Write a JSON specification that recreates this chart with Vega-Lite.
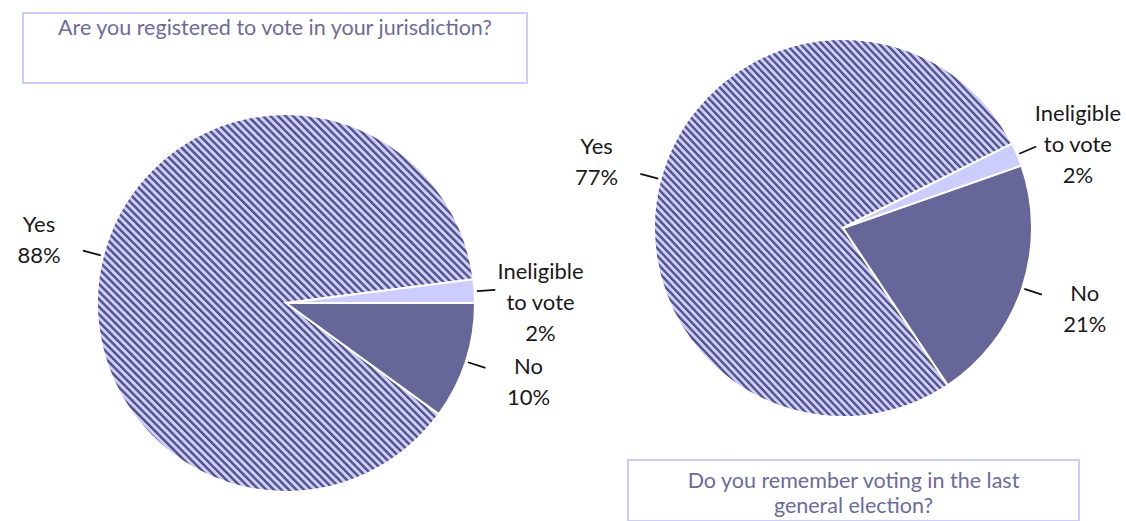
{
"$schema": "https://vega.github.io/schema/vega-lite/v6.json",
"padding": {"left": 17, "top": 12, "right": 0, "bottom": 0},
"background": "white",
"config": {"view": {"stroke": null}, "font": "Lato"},
"params": [{"name": "stripes", "value": {"gradient": "linear", "x1": 0, "y1": 1, "x2": 1, "y2": 0, "stops": [
{"offset":0.001,"color":"#ccf"},{"offset":0.0048,"color":"#ccf"},{"offset":0.0062,"color":"#558"},{"offset":0.0092,"color":"#558"},
{"offset":0.011,"color":"#ccf"},{"offset":0.0148,"color":"#ccf"},{"offset":0.0162,"color":"#558"},{"offset":0.0192,"color":"#558"},
{"offset":0.021,"color":"#ccf"},{"offset":0.0248,"color":"#ccf"},{"offset":0.0262,"color":"#558"},{"offset":0.0292,"color":"#558"},
{"offset":0.031,"color":"#ccf"},{"offset":0.0348,"color":"#ccf"},{"offset":0.0362,"color":"#558"},{"offset":0.0392,"color":"#558"},
{"offset":0.041,"color":"#ccf"},{"offset":0.0448,"color":"#ccf"},{"offset":0.0462,"color":"#558"},{"offset":0.0492,"color":"#558"},
{"offset":0.051,"color":"#ccf"},{"offset":0.0548,"color":"#ccf"},{"offset":0.0562,"color":"#558"},{"offset":0.0592,"color":"#558"},
{"offset":0.061,"color":"#ccf"},{"offset":0.0648,"color":"#ccf"},{"offset":0.0662,"color":"#558"},{"offset":0.0692,"color":"#558"},
{"offset":0.071,"color":"#ccf"},{"offset":0.0748,"color":"#ccf"},{"offset":0.0762,"color":"#558"},{"offset":0.0792,"color":"#558"},
{"offset":0.081,"color":"#ccf"},{"offset":0.0848,"color":"#ccf"},{"offset":0.0862,"color":"#558"},{"offset":0.0892,"color":"#558"},
{"offset":0.091,"color":"#ccf"},{"offset":0.0948,"color":"#ccf"},{"offset":0.0962,"color":"#558"},{"offset":0.0992,"color":"#558"},
{"offset":0.101,"color":"#ccf"},{"offset":0.1048,"color":"#ccf"},{"offset":0.1062,"color":"#558"},{"offset":0.1092,"color":"#558"},
{"offset":0.111,"color":"#ccf"},{"offset":0.1148,"color":"#ccf"},{"offset":0.1162,"color":"#558"},{"offset":0.1192,"color":"#558"},
{"offset":0.121,"color":"#ccf"},{"offset":0.1248,"color":"#ccf"},{"offset":0.1262,"color":"#558"},{"offset":0.1292,"color":"#558"},
{"offset":0.131,"color":"#ccf"},{"offset":0.1348,"color":"#ccf"},{"offset":0.1362,"color":"#558"},{"offset":0.1392,"color":"#558"},
{"offset":0.141,"color":"#ccf"},{"offset":0.1448,"color":"#ccf"},{"offset":0.1462,"color":"#558"},{"offset":0.1492,"color":"#558"},
{"offset":0.151,"color":"#ccf"},{"offset":0.1548,"color":"#ccf"},{"offset":0.1562,"color":"#558"},{"offset":0.1592,"color":"#558"},
{"offset":0.161,"color":"#ccf"},{"offset":0.1648,"color":"#ccf"},{"offset":0.1662,"color":"#558"},{"offset":0.1692,"color":"#558"},
{"offset":0.171,"color":"#ccf"},{"offset":0.1748,"color":"#ccf"},{"offset":0.1762,"color":"#558"},{"offset":0.1792,"color":"#558"},
{"offset":0.181,"color":"#ccf"},{"offset":0.1848,"color":"#ccf"},{"offset":0.1862,"color":"#558"},{"offset":0.1892,"color":"#558"},
{"offset":0.191,"color":"#ccf"},{"offset":0.1948,"color":"#ccf"},{"offset":0.1962,"color":"#558"},{"offset":0.1992,"color":"#558"},
{"offset":0.201,"color":"#ccf"},{"offset":0.2048,"color":"#ccf"},{"offset":0.2062,"color":"#558"},{"offset":0.2092,"color":"#558"},
{"offset":0.211,"color":"#ccf"},{"offset":0.2148,"color":"#ccf"},{"offset":0.2162,"color":"#558"},{"offset":0.2192,"color":"#558"},
{"offset":0.221,"color":"#ccf"},{"offset":0.2248,"color":"#ccf"},{"offset":0.2262,"color":"#558"},{"offset":0.2292,"color":"#558"},
{"offset":0.231,"color":"#ccf"},{"offset":0.2348,"color":"#ccf"},{"offset":0.2362,"color":"#558"},{"offset":0.2392,"color":"#558"},
{"offset":0.241,"color":"#ccf"},{"offset":0.2448,"color":"#ccf"},{"offset":0.2462,"color":"#558"},{"offset":0.2492,"color":"#558"},
{"offset":0.251,"color":"#ccf"},{"offset":0.2548,"color":"#ccf"},{"offset":0.2562,"color":"#558"},{"offset":0.2592,"color":"#558"},
{"offset":0.261,"color":"#ccf"},{"offset":0.2648,"color":"#ccf"},{"offset":0.2662,"color":"#558"},{"offset":0.2692,"color":"#558"},
{"offset":0.271,"color":"#ccf"},{"offset":0.2748,"color":"#ccf"},{"offset":0.2762,"color":"#558"},{"offset":0.2792,"color":"#558"},
{"offset":0.281,"color":"#ccf"},{"offset":0.2848,"color":"#ccf"},{"offset":0.2862,"color":"#558"},{"offset":0.2892,"color":"#558"},
{"offset":0.291,"color":"#ccf"},{"offset":0.2948,"color":"#ccf"},{"offset":0.2962,"color":"#558"},{"offset":0.2992,"color":"#558"},
{"offset":0.301,"color":"#ccf"},{"offset":0.3048,"color":"#ccf"},{"offset":0.3062,"color":"#558"},{"offset":0.3092,"color":"#558"},
{"offset":0.311,"color":"#ccf"},{"offset":0.3148,"color":"#ccf"},{"offset":0.3162,"color":"#558"},{"offset":0.3192,"color":"#558"},
{"offset":0.321,"color":"#ccf"},{"offset":0.3248,"color":"#ccf"},{"offset":0.3262,"color":"#558"},{"offset":0.3292,"color":"#558"},
{"offset":0.331,"color":"#ccf"},{"offset":0.3348,"color":"#ccf"},{"offset":0.3362,"color":"#558"},{"offset":0.3392,"color":"#558"},
{"offset":0.341,"color":"#ccf"},{"offset":0.3448,"color":"#ccf"},{"offset":0.3462,"color":"#558"},{"offset":0.3492,"color":"#558"},
{"offset":0.351,"color":"#ccf"},{"offset":0.3548,"color":"#ccf"},{"offset":0.3562,"color":"#558"},{"offset":0.3592,"color":"#558"},
{"offset":0.361,"color":"#ccf"},{"offset":0.3648,"color":"#ccf"},{"offset":0.3662,"color":"#558"},{"offset":0.3692,"color":"#558"},
{"offset":0.371,"color":"#ccf"},{"offset":0.3748,"color":"#ccf"},{"offset":0.3762,"color":"#558"},{"offset":0.3792,"color":"#558"},
{"offset":0.381,"color":"#ccf"},{"offset":0.3848,"color":"#ccf"},{"offset":0.3862,"color":"#558"},{"offset":0.3892,"color":"#558"},
{"offset":0.391,"color":"#ccf"},{"offset":0.3948,"color":"#ccf"},{"offset":0.3962,"color":"#558"},{"offset":0.3992,"color":"#558"},
{"offset":0.401,"color":"#ccf"},{"offset":0.4048,"color":"#ccf"},{"offset":0.4062,"color":"#558"},{"offset":0.4092,"color":"#558"},
{"offset":0.411,"color":"#ccf"},{"offset":0.4148,"color":"#ccf"},{"offset":0.4162,"color":"#558"},{"offset":0.4192,"color":"#558"},
{"offset":0.421,"color":"#ccf"},{"offset":0.4248,"color":"#ccf"},{"offset":0.4262,"color":"#558"},{"offset":0.4292,"color":"#558"},
{"offset":0.431,"color":"#ccf"},{"offset":0.4348,"color":"#ccf"},{"offset":0.4362,"color":"#558"},{"offset":0.4392,"color":"#558"},
{"offset":0.441,"color":"#ccf"},{"offset":0.4448,"color":"#ccf"},{"offset":0.4462,"color":"#558"},{"offset":0.4492,"color":"#558"},
{"offset":0.451,"color":"#ccf"},{"offset":0.4548,"color":"#ccf"},{"offset":0.4562,"color":"#558"},{"offset":0.4592,"color":"#558"},
{"offset":0.461,"color":"#ccf"},{"offset":0.4648,"color":"#ccf"},{"offset":0.4662,"color":"#558"},{"offset":0.4692,"color":"#558"},
{"offset":0.471,"color":"#ccf"},{"offset":0.4748,"color":"#ccf"},{"offset":0.4762,"color":"#558"},{"offset":0.4792,"color":"#558"},
{"offset":0.481,"color":"#ccf"},{"offset":0.4848,"color":"#ccf"},{"offset":0.4862,"color":"#558"},{"offset":0.4892,"color":"#558"},
{"offset":0.491,"color":"#ccf"},{"offset":0.4948,"color":"#ccf"},{"offset":0.4962,"color":"#558"},{"offset":0.4992,"color":"#558"},
{"offset":0.501,"color":"#ccf"},{"offset":0.5048,"color":"#ccf"},{"offset":0.5062,"color":"#558"},{"offset":0.5092,"color":"#558"},
{"offset":0.511,"color":"#ccf"},{"offset":0.5148,"color":"#ccf"},{"offset":0.5162,"color":"#558"},{"offset":0.5192,"color":"#558"},
{"offset":0.521,"color":"#ccf"},{"offset":0.5248,"color":"#ccf"},{"offset":0.5262,"color":"#558"},{"offset":0.5292,"color":"#558"},
{"offset":0.531,"color":"#ccf"},{"offset":0.5348,"color":"#ccf"},{"offset":0.5362,"color":"#558"},{"offset":0.5392,"color":"#558"},
{"offset":0.541,"color":"#ccf"},{"offset":0.5448,"color":"#ccf"},{"offset":0.5462,"color":"#558"},{"offset":0.5492,"color":"#558"},
{"offset":0.551,"color":"#ccf"},{"offset":0.5548,"color":"#ccf"},{"offset":0.5562,"color":"#558"},{"offset":0.5592,"color":"#558"},
{"offset":0.561,"color":"#ccf"},{"offset":0.5648,"color":"#ccf"},{"offset":0.5662,"color":"#558"},{"offset":0.5692,"color":"#558"},
{"offset":0.571,"color":"#ccf"},{"offset":0.5748,"color":"#ccf"},{"offset":0.5762,"color":"#558"},{"offset":0.5792,"color":"#558"},
{"offset":0.581,"color":"#ccf"},{"offset":0.5848,"color":"#ccf"},{"offset":0.5862,"color":"#558"},{"offset":0.5892,"color":"#558"},
{"offset":0.591,"color":"#ccf"},{"offset":0.5948,"color":"#ccf"},{"offset":0.5962,"color":"#558"},{"offset":0.5992,"color":"#558"},
{"offset":0.601,"color":"#ccf"},{"offset":0.6048,"color":"#ccf"},{"offset":0.6062,"color":"#558"},{"offset":0.6092,"color":"#558"},
{"offset":0.611,"color":"#ccf"},{"offset":0.6148,"color":"#ccf"},{"offset":0.6162,"color":"#558"},{"offset":0.6192,"color":"#558"},
{"offset":0.621,"color":"#ccf"},{"offset":0.6248,"color":"#ccf"},{"offset":0.6262,"color":"#558"},{"offset":0.6292,"color":"#558"},
{"offset":0.631,"color":"#ccf"},{"offset":0.6348,"color":"#ccf"},{"offset":0.6362,"color":"#558"},{"offset":0.6392,"color":"#558"},
{"offset":0.641,"color":"#ccf"},{"offset":0.6448,"color":"#ccf"},{"offset":0.6462,"color":"#558"},{"offset":0.6492,"color":"#558"},
{"offset":0.651,"color":"#ccf"},{"offset":0.6548,"color":"#ccf"},{"offset":0.6562,"color":"#558"},{"offset":0.6592,"color":"#558"},
{"offset":0.661,"color":"#ccf"},{"offset":0.6648,"color":"#ccf"},{"offset":0.6662,"color":"#558"},{"offset":0.6692,"color":"#558"},
{"offset":0.671,"color":"#ccf"},{"offset":0.6748,"color":"#ccf"},{"offset":0.6762,"color":"#558"},{"offset":0.6792,"color":"#558"},
{"offset":0.681,"color":"#ccf"},{"offset":0.6848,"color":"#ccf"},{"offset":0.6862,"color":"#558"},{"offset":0.6892,"color":"#558"},
{"offset":0.691,"color":"#ccf"},{"offset":0.6948,"color":"#ccf"},{"offset":0.6962,"color":"#558"},{"offset":0.6992,"color":"#558"},
{"offset":0.701,"color":"#ccf"},{"offset":0.7048,"color":"#ccf"},{"offset":0.7062,"color":"#558"},{"offset":0.7092,"color":"#558"},
{"offset":0.711,"color":"#ccf"},{"offset":0.7148,"color":"#ccf"},{"offset":0.7162,"color":"#558"},{"offset":0.7192,"color":"#558"},
{"offset":0.721,"color":"#ccf"},{"offset":0.7248,"color":"#ccf"},{"offset":0.7262,"color":"#558"},{"offset":0.7292,"color":"#558"},
{"offset":0.731,"color":"#ccf"},{"offset":0.7348,"color":"#ccf"},{"offset":0.7362,"color":"#558"},{"offset":0.7392,"color":"#558"},
{"offset":0.741,"color":"#ccf"},{"offset":0.7448,"color":"#ccf"},{"offset":0.7462,"color":"#558"},{"offset":0.7492,"color":"#558"},
{"offset":0.751,"color":"#ccf"},{"offset":0.7548,"color":"#ccf"},{"offset":0.7562,"color":"#558"},{"offset":0.7592,"color":"#558"},
{"offset":0.761,"color":"#ccf"},{"offset":0.7648,"color":"#ccf"},{"offset":0.7662,"color":"#558"},{"offset":0.7692,"color":"#558"},
{"offset":0.771,"color":"#ccf"},{"offset":0.7748,"color":"#ccf"},{"offset":0.7762,"color":"#558"},{"offset":0.7792,"color":"#558"},
{"offset":0.781,"color":"#ccf"},{"offset":0.7848,"color":"#ccf"},{"offset":0.7862,"color":"#558"},{"offset":0.7892,"color":"#558"},
{"offset":0.791,"color":"#ccf"},{"offset":0.7948,"color":"#ccf"},{"offset":0.7962,"color":"#558"},{"offset":0.7992,"color":"#558"},
{"offset":0.801,"color":"#ccf"},{"offset":0.8048,"color":"#ccf"},{"offset":0.8062,"color":"#558"},{"offset":0.8092,"color":"#558"},
{"offset":0.811,"color":"#ccf"},{"offset":0.8148,"color":"#ccf"},{"offset":0.8162,"color":"#558"},{"offset":0.8192,"color":"#558"},
{"offset":0.821,"color":"#ccf"},{"offset":0.8248,"color":"#ccf"},{"offset":0.8262,"color":"#558"},{"offset":0.8292,"color":"#558"},
{"offset":0.831,"color":"#ccf"},{"offset":0.8348,"color":"#ccf"},{"offset":0.8362,"color":"#558"},{"offset":0.8392,"color":"#558"},
{"offset":0.841,"color":"#ccf"},{"offset":0.8448,"color":"#ccf"},{"offset":0.8462,"color":"#558"},{"offset":0.8492,"color":"#558"},
{"offset":0.851,"color":"#ccf"},{"offset":0.8548,"color":"#ccf"},{"offset":0.8562,"color":"#558"},{"offset":0.8592,"color":"#558"},
{"offset":0.861,"color":"#ccf"},{"offset":0.8648,"color":"#ccf"},{"offset":0.8662,"color":"#558"},{"offset":0.8692,"color":"#558"},
{"offset":0.871,"color":"#ccf"},{"offset":0.8748,"color":"#ccf"},{"offset":0.8762,"color":"#558"},{"offset":0.8792,"color":"#558"},
{"offset":0.881,"color":"#ccf"},{"offset":0.8848,"color":"#ccf"},{"offset":0.8862,"color":"#558"},{"offset":0.8892,"color":"#558"},
{"offset":0.891,"color":"#ccf"},{"offset":0.8948,"color":"#ccf"},{"offset":0.8962,"color":"#558"},{"offset":0.8992,"color":"#558"},
{"offset":0.901,"color":"#ccf"},{"offset":0.9048,"color":"#ccf"},{"offset":0.9062,"color":"#558"},{"offset":0.9092,"color":"#558"},
{"offset":0.911,"color":"#ccf"},{"offset":0.9148,"color":"#ccf"},{"offset":0.9162,"color":"#558"},{"offset":0.9192,"color":"#558"},
{"offset":0.921,"color":"#ccf"},{"offset":0.9248,"color":"#ccf"},{"offset":0.9262,"color":"#558"},{"offset":0.9292,"color":"#558"},
{"offset":0.931,"color":"#ccf"},{"offset":0.9348,"color":"#ccf"},{"offset":0.9362,"color":"#558"},{"offset":0.9392,"color":"#558"},
{"offset":0.941,"color":"#ccf"},{"offset":0.9448,"color":"#ccf"},{"offset":0.9462,"color":"#558"},{"offset":0.9492,"color":"#558"},
{"offset":0.951,"color":"#ccf"},{"offset":0.9548,"color":"#ccf"},{"offset":0.9562,"color":"#558"},{"offset":0.9592,"color":"#558"},
{"offset":0.961,"color":"#ccf"},{"offset":0.9648,"color":"#ccf"},{"offset":0.9662,"color":"#558"},{"offset":0.9692,"color":"#558"},
{"offset":0.971,"color":"#ccf"},{"offset":0.9748,"color":"#ccf"},{"offset":0.9762,"color":"#558"},{"offset":0.9792,"color":"#558"},
{"offset":0.981,"color":"#ccf"},{"offset":0.9848,"color":"#ccf"},{"offset":0.9862,"color":"#558"},{"offset":0.9892,"color":"#558"},
{"offset":0.991,"color":"#ccf"},{"offset":0.9948,"color":"#ccf"},{"offset":0.9962,"color":"#558"},{"offset":0.9992,"color":"#558"}
]}}],
"spacing": 605,
"bounds": "flush",
"hconcat": [
 {"vconcat": [
   {"width": 504, "height": 70, "view": {"stroke": "#ccccff", "strokeWidth": 2},
    "data": {"values": [{"title": "Are you registered to vote in your jurisdiction?"}]},
    "mark": {"type": "text", "font": "Lato", "fontSize": 21.5, "color": "#6b6b9c", "dy": -19},
    "encoding": {"text": {"field": "title", "type": "nominal"}}},
   {"width": 526, "height": 420,
    "data": {"values": [
      {"answer": "Yes", "pct": 88},
      {"answer": "No", "pct": 10},
      {"answer": "Ineligible to vote", "pct": 2}]},
    "transform": [
      {"calculate": "replace(datum.answer, ' to', '\\nto') + '\\n' + datum.pct + '%'", "as": "label"},
      {"window": [{"op": "sum", "field": "pct", "as": "cum"}], "sort": [{"field": "answer", "order": "ascending"}]},
      {"calculate": "datum.cum - datum.pct / 2", "as": "mid"},
      {"calculate": "datum.mid + 0.02", "as": "mid2"}],
    "encoding": {
      "theta": {"field": "pct", "type": "quantitative", "stack": true, "scale": {"range": [1.4451, 7.7283]}},
      "order": {"field": "answer", "type": "nominal", "sort": "ascending"},
      "detail": {"field": "answer", "type": "nominal"}},
    "layer": [
      {"mark": {"type": "arc", "outerRadius": 189, "stroke": "white", "strokeWidth": 2},
       "encoding": {"fill": {"condition": {"test": "datum.answer === 'Yes'", "value": {"expr": "stripes"}},
         "field": "answer", "type": "nominal", "legend": null,
         "scale": {"domain": ["Yes", "No", "Ineligible to vote"], "range": ["#ccccff", "#666699", "#ccccff"]}}}},
      {"mark": {"type": "arc", "outerRadius": 209, "innerRadius": 192, "fill": "#111111", "stroke": "#111111", "strokeWidth": 1.5},
       "encoding": {"theta": {"field": "mid", "type": "quantitative", "stack": null}, "theta2": {"field": "mid2"}}},
      {"mark": {"type": "text", "radius": 255, "font": "Lato", "fontSize": 22, "lineBreak": "\n", "lineHeight": 31, "dy": -15, "color": "#1a1a1a"},
       "encoding": {"text": {"field": "label", "type": "nominal"}}}
    ]}
  ], "spacing": 10, "bounds": "flush"},
 {"vconcat": [
   {"width": 430, "height": 430,
    "data": {"values": [
      {"answer": "Yes", "pct": 77},
      {"answer": "No", "pct": 21},
      {"answer": "Ineligible to vote", "pct": 2}]},
    "transform": [
      {"calculate": "replace(datum.answer, ' to', '\\nto') + '\\n' + datum.pct + '%'", "as": "label"},
      {"window": [{"op": "sum", "field": "pct", "as": "cum"}], "sort": [{"field": "answer", "order": "ascending"}]},
      {"calculate": "datum.cum - datum.pct / 2", "as": "mid"},
      {"calculate": "datum.mid + 0.02", "as": "mid2"}],
    "encoding": {
      "theta": {"field": "pct", "type": "quantitative", "stack": true, "scale": {"range": [1.1083, 7.3915]}},
      "order": {"field": "answer", "type": "nominal", "sort": "ascending"},
      "detail": {"field": "answer", "type": "nominal"}},
    "layer": [
      {"mark": {"type": "arc", "outerRadius": 189, "stroke": "white", "strokeWidth": 2},
       "encoding": {"fill": {"condition": {"test": "datum.answer === 'Yes'", "value": {"expr": "stripes"}},
         "field": "answer", "type": "nominal", "legend": null,
         "scale": {"domain": ["Yes", "No", "Ineligible to vote"], "range": ["#ccccff", "#666699", "#ccccff"]}}}},
      {"mark": {"type": "arc", "outerRadius": 209, "innerRadius": 192, "fill": "#111111", "stroke": "#111111", "strokeWidth": 1.5},
       "encoding": {"theta": {"field": "mid", "type": "quantitative", "stack": null}, "theta2": {"field": "mid2"}}},
      {"mark": {"type": "text", "radius": 255, "font": "Lato", "fontSize": 22, "lineBreak": "\n", "lineHeight": 31, "dy": -15, "color": "#1a1a1a"},
       "encoding": {"text": {"field": "label", "type": "nominal"}}}
    ]},
   {"width": 451, "height": 61, "view": {"stroke": "#ccccff", "strokeWidth": 2},
    "data": {"values": [{"title": "Do you remember voting in the last\ngeneral election?"}]},
    "mark": {"type": "text", "font": "Lato", "fontSize": 21.5, "color": "#6b6b9c", "lineBreak": "\n", "lineHeight": 25, "dy": -9},
    "encoding": {"text": {"field": "title", "type": "nominal"}}}
  ], "spacing": 17, "bounds": "flush"}
]
}
